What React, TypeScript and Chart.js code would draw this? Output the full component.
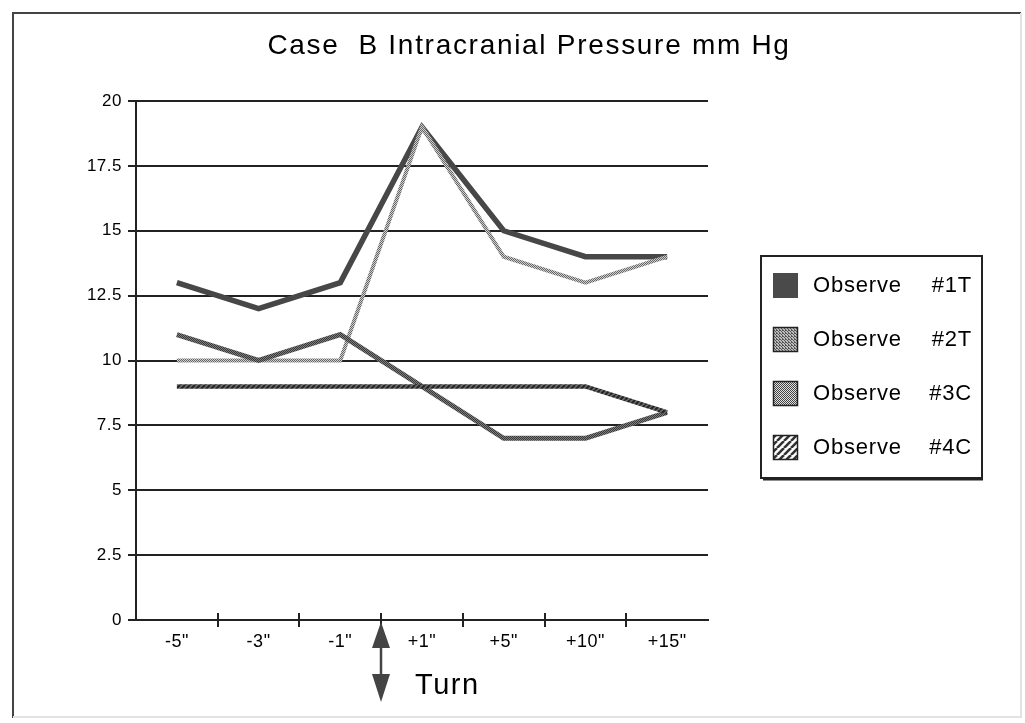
import { useEffect, useRef } from "react";
import { Chart, registerables } from "chart.js";

Chart.register(...registerables);

const FONT = '"Liberation Sans", Arial, Helvetica, sans-serif';

// Minutes relative to the turn
const timepoints = ['-5"', '-3"', '-1"', '+1"', '+5"', '+10"', '+15"'];

// Intracranial pressure, mm Hg
const observe1T = [13, 12, 13, 19, 15, 14, 14];
const observe2T = [10, 10, 10, 19, 14, 13, 14];
const observe3C = [11, 10, 11, 9, 7, 7, 8];
const observe4C = [9, 9, 9, 9, 9, 9, 8];

const seriesNames = ["Observe", "Observe", "Observe", "Observe"];
const seriesTags = ["#1T", "#2T", "#3C", "#4C"];
const yTickValues = [0, 2.5, 5, 7.5, 10, 12.5, 15, 17.5, 20];
const chartTitle = "Case  B Intracranial Pressure mm Hg";
const turnLabel = "Turn";

function makePattern(size: number, paint: (g: CanvasRenderingContext2D) => void): CanvasPattern | string {
  const c = document.createElement("canvas");
  c.width = size;
  c.height = size;
  const g = c.getContext("2d");
  if (!g) return "#777";
  paint(g);
  return g.createPattern(c, "repeat") ?? "#777";
}

function checker(size: number, bg: string, fg: string, cells: [number, number][]) {
  return makePattern(size, (g) => {
    g.fillStyle = bg;
    g.fillRect(0, 0, size, size);
    g.fillStyle = fg;
    cells.forEach(([x, y]) => g.fillRect(x, y, 1, 1));
  });
}

function stripes(size: number, bg: string, fg: string, width: number) {
  return makePattern(size, (g) => {
    g.fillStyle = bg;
    g.fillRect(0, 0, size, size);
    g.strokeStyle = fg;
    g.lineWidth = width;
    g.beginPath();
    for (let k = -1; k <= 1; k++) {
      g.moveTo(k * size, size);
      g.lineTo(k * size + size, 0);
    }
    g.stroke();
  });
}

export default function App() {
  const canvasRef = useRef<HTMLCanvasElement | null>(null);

  useEffect(() => {
    const canvas = canvasRef.current;
    if (!canvas) return;

    const line1 = "#474747";
    const line2 = checker(2, "#cfcfcf", "#666666", [[0, 0], [1, 1]]);
    const line3 = checker(2, "#383838", "#7e7e7e", [[1, 0], [0, 1]]);
    const line4 = stripes(5, "#6e6e6e", "#262626", 2.2);

    const swatches = [
      "#4a4a4a",
      checker(3, "#bdbdbd", "#555555", [[0, 0], [1, 1], [2, 2], [2, 0]]),
      checker(2, "#e0e0e0", "#444444", [[0, 0], [1, 1]]),
      stripes(7, "#ffffff", "#333333", 2.6),
    ];

    const tickSpacing = {
      id: "tickSpacing",
      beforeDraw(chart: Chart) {
        (chart.ctx as any).letterSpacing = "0.5px";
      },
    };

    const decor = {
      id: "decor",
      afterDraw(chart: Chart) {
        const ctx = chart.ctx;
        const xs = chart.scales.x;
        const area = chart.chartArea;
        ctx.save();

        // outer frame
        ctx.lineWidth = 2;
        ctx.strokeStyle = "#444";
        ctx.beginPath();
        ctx.moveTo(13, 718);
        ctx.lineTo(13, 13);
        ctx.lineTo(1021, 13);
        ctx.stroke();
        ctx.strokeStyle = "#e2e2e2";
        ctx.beginPath();
        ctx.moveTo(1021, 13);
        ctx.lineTo(1021, 717);
        ctx.lineTo(13, 717);
        ctx.stroke();

        // title
        ctx.fillStyle = "#000";
        ctx.font = `28px ${FONT}`;
        (ctx as any).letterSpacing = "1.7px";
        ctx.textAlign = "center";
        ctx.textBaseline = "middle";
        ctx.fillText(chartTitle, 529, 46);

        // x-axis tick marks between categories, crossing the axis
        const bounds: number[] = [];
        for (let i = 0; i < timepoints.length - 1; i++) {
          bounds.push((xs.getPixelForValue(i) + xs.getPixelForValue(i + 1)) / 2);
        }
        ctx.strokeStyle = "#222";
        ctx.lineWidth = 2;
        ctx.beginPath();
        bounds.forEach((bx) => {
          ctx.moveTo(Math.round(bx), area.bottom - 7);
          ctx.lineTo(Math.round(bx), area.bottom + 7);
        });
        ctx.stroke();

        // turn marker: double-headed arrow below the axis
        const ax = Math.round(bounds[2]);
        ctx.fillStyle = "#444";
        ctx.strokeStyle = "#444";
        ctx.beginPath();
        ctx.moveTo(ax, 622);
        ctx.lineTo(ax + 9, 648);
        ctx.lineTo(ax - 9, 648);
        ctx.closePath();
        ctx.fill();
        ctx.lineWidth = 2.5;
        ctx.beginPath();
        ctx.moveTo(ax, 646);
        ctx.lineTo(ax, 676);
        ctx.stroke();
        ctx.beginPath();
        ctx.moveTo(ax - 9, 674);
        ctx.lineTo(ax + 9, 674);
        ctx.lineTo(ax, 702);
        ctx.closePath();
        ctx.fill();

        ctx.fillStyle = "#000";
        ctx.font = `29px ${FONT}`;
        (ctx as any).letterSpacing = "1.5px";
        ctx.textAlign = "left";
        ctx.fillText(turnLabel, ax + 34, 686);

        // legend
        const lx = 761, ly = 256, lw = 221, lh = 222;
        ctx.strokeStyle = "#222";
        ctx.lineWidth = 2;
        ctx.strokeRect(lx, ly, lw, lh);
        ctx.beginPath();
        ctx.moveTo(lx + 2, ly + lh + 1.5);
        ctx.lineTo(lx + lw + 1, ly + lh + 1.5);
        ctx.stroke();

        ctx.font = `22px ${FONT}`;
        (ctx as any).letterSpacing = "0.8px";
        ctx.textBaseline = "middle";
        seriesTags.forEach((tag, i) => {
          const sy = 273 + i * 54;
          ctx.fillStyle = swatches[i] as any;
          ctx.fillRect(773, sy, 25, 25);
          if (i > 0) {
            ctx.strokeStyle = "#222";
            ctx.lineWidth = 1.5;
            ctx.strokeRect(773.5, sy + 0.5, 24, 24);
          }
          ctx.fillStyle = "#000";
          ctx.textAlign = "left";
          ctx.fillText(seriesNames[i], 813, sy + 13);
          ctx.textAlign = "right";
          ctx.fillText(tag, 972, sy + 13);
        });

        ctx.restore();
      },
    };

    const chart = new Chart(canvas, {
      type: "line",
      data: {
        labels: timepoints,
        datasets: [
          { label: `${seriesNames[3]} ${seriesTags[3]}`, data: observe4C, borderColor: line4 as any, borderWidth: 4.5 },
          { label: `${seriesNames[2]} ${seriesTags[2]}`, data: observe3C, borderColor: line3 as any, borderWidth: 5 },
          { label: `${seriesNames[1]} ${seriesTags[1]}`, data: observe2T, borderColor: line2 as any, borderWidth: 4 },
          { label: `${seriesNames[0]} ${seriesTags[0]}`, data: observe1T, borderColor: line1, borderWidth: 5.5 },
        ],
      },
      options: {
        responsive: false,
        animation: false,
        events: [],
        layout: { padding: { top: 101, right: 317, bottom: 0, left: 0 } },
        elements: {
          point: { radius: 0 },
          line: { tension: 0, borderJoinStyle: "miter", borderCapStyle: "butt", fill: false },
        },
        plugins: {
          legend: { display: false },
          title: { display: false },
          tooltip: { enabled: false },
        },
        scales: {
          x: {
            type: "category",
            offset: true,
            grid: { display: false, drawTicks: false },
            border: { display: true, color: "#222", width: 2 },
            ticks: {
              color: "#000",
              font: { family: FONT, size: 18 },
              padding: 11,
              autoSkip: false,
              maxRotation: 0,
            },
            afterFit: (s: any) => {
              s.height = 103;
            },
          },
          y: {
            min: 0,
            max: 20,
            afterBuildTicks: (s: any) => {
              s.ticks = yTickValues.map((v) => ({ value: v }));
            },
            ticks: {
              color: "#000",
              font: { family: FONT, size: 17 },
              padding: 6,
              callback: (v: any) => String(v),
            },
            grid: { color: "#222", lineWidth: 2, tickLength: 8, drawTicks: true },
            border: { display: true, color: "#222", width: 2 },
            afterFit: (s: any) => {
              s.width = 136;
            },
          },
        },
      },
      plugins: [tickSpacing, decor],
    });

    return () => chart.destroy();
  }, []);

  return (
    <div style={{ position: "absolute", left: 0, top: 0, width: 1025, height: 723, background: "#fff" }}>
      <canvas ref={canvasRef} width={1025} height={723} style={{ display: "block" }} />
    </div>
  );
}
